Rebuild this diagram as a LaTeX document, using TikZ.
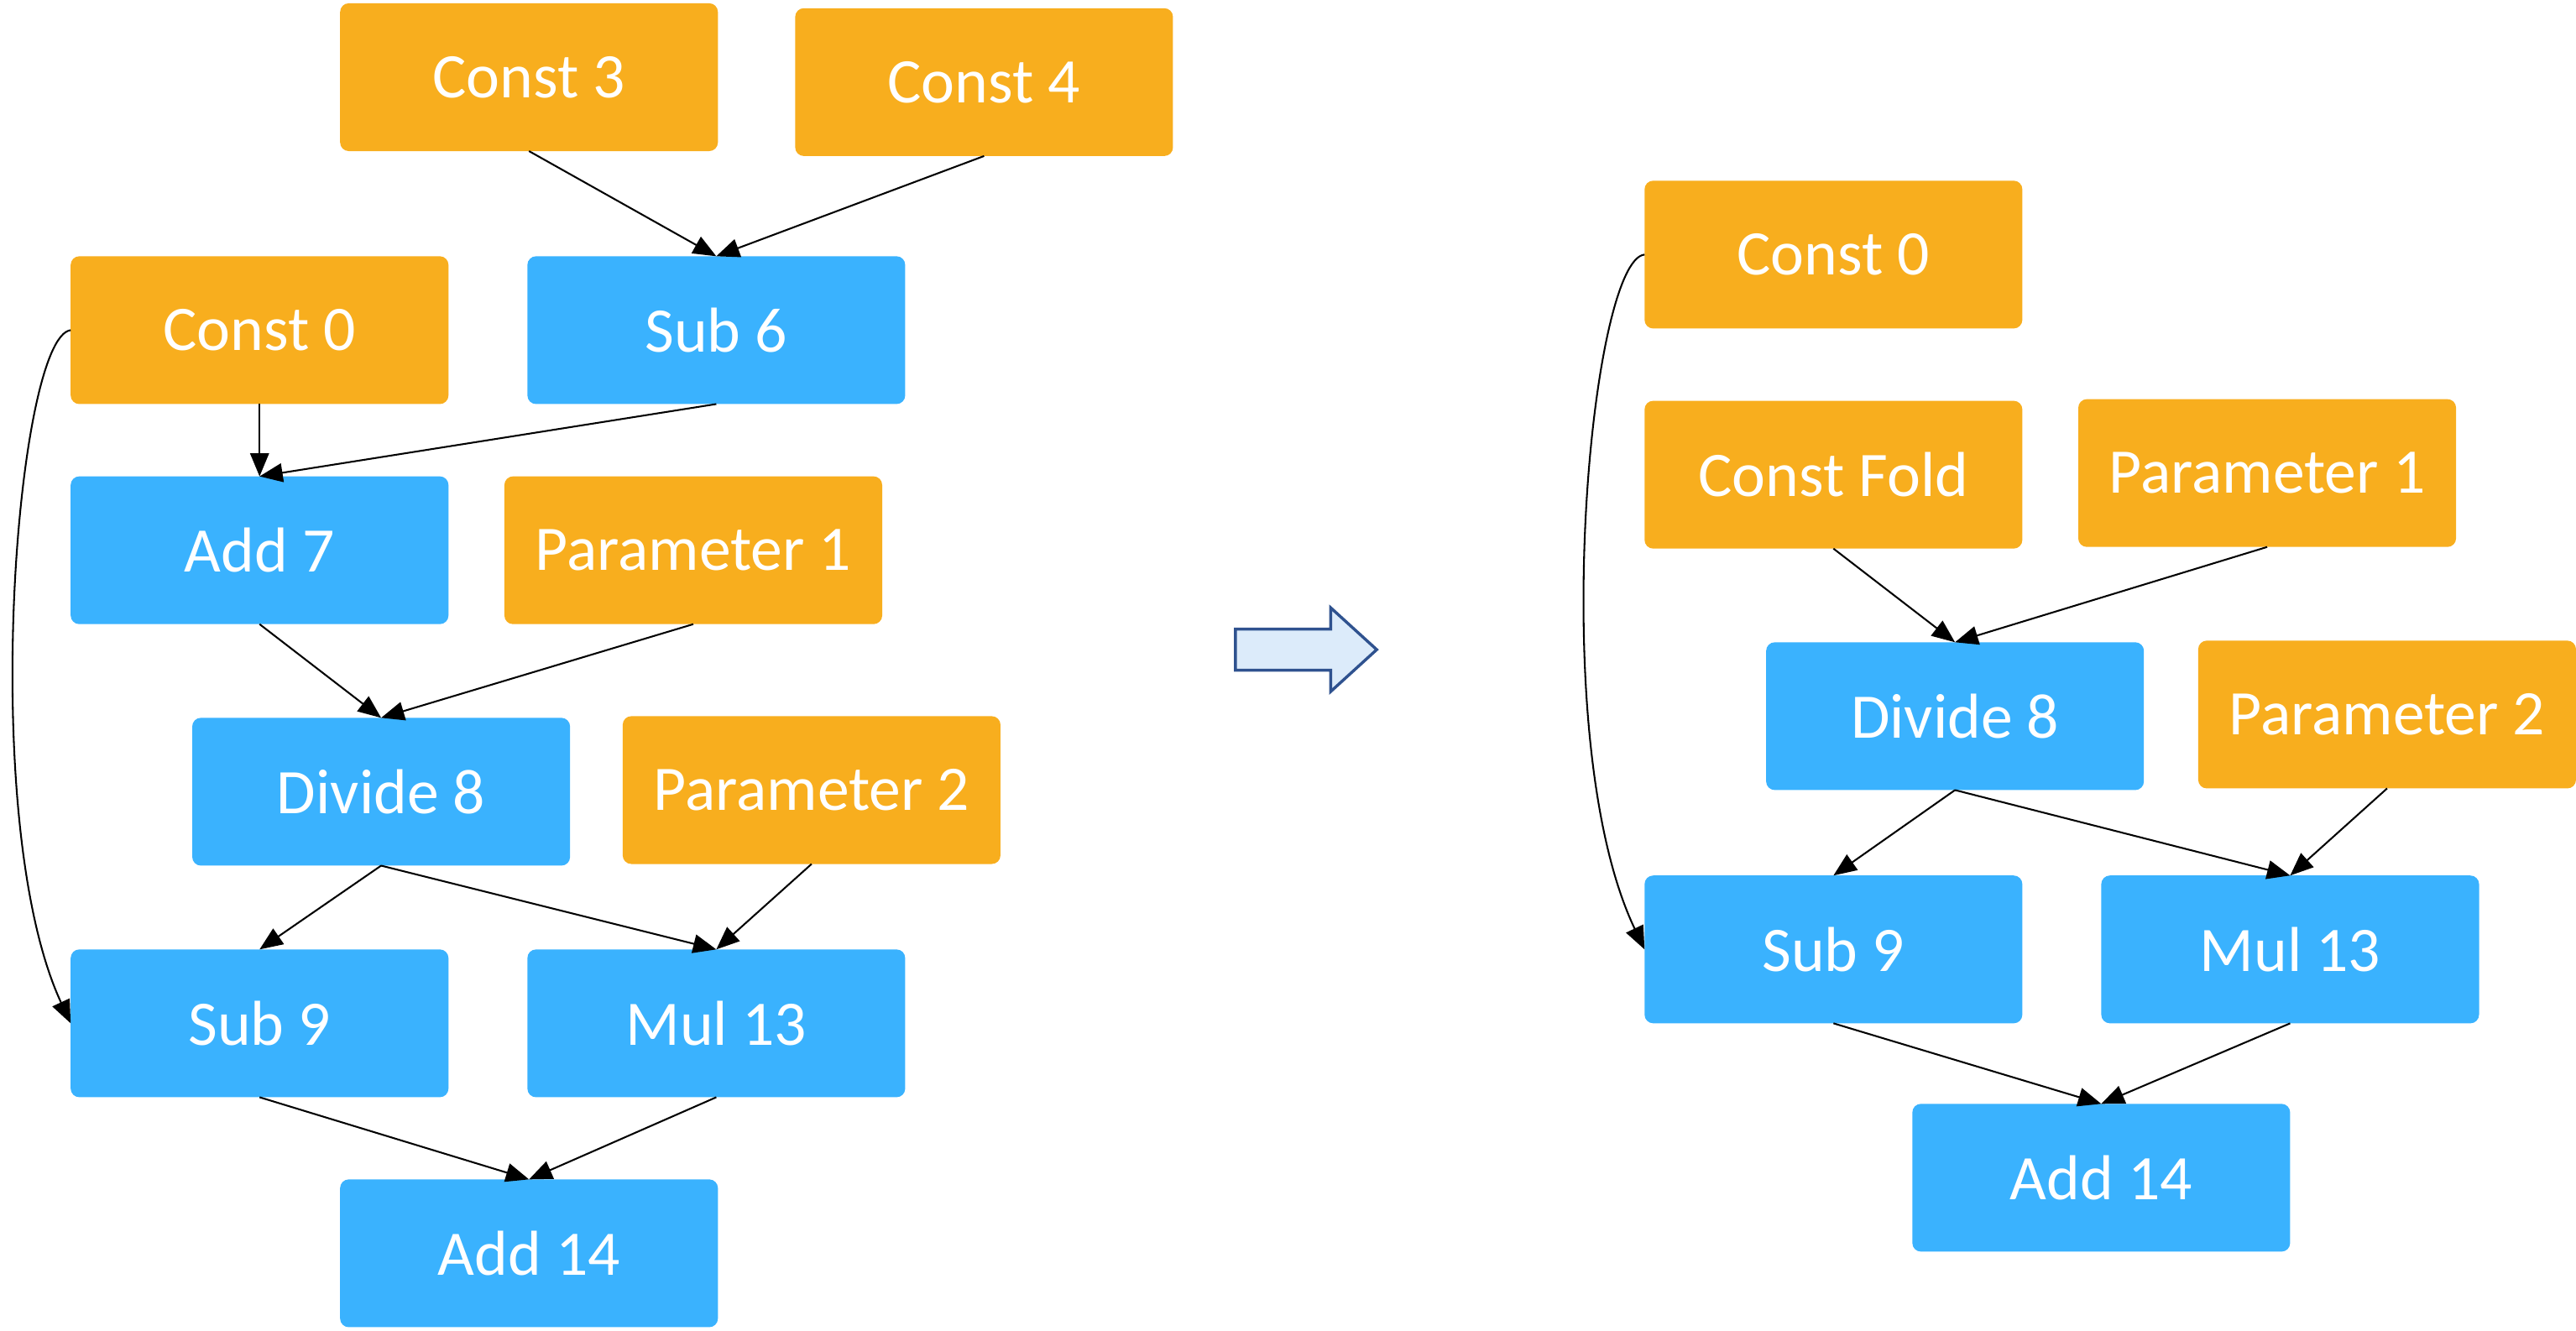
\documentclass[tikz,border=0pt]{standalone}
\usepackage{fontspec}
\setsansfont{Carlito}
\usepackage{xcolor}
\usepackage{tikz}
\usetikzlibrary{positioning,arrows.meta}
\definecolor{cstorange}{HTML}{F8AE1E}
\definecolor{opblue}{HTML}{3AB2FE}
\definecolor{flowfill}{HTML}{DCEBFA}
\definecolor{flowline}{HTML}{2F528F}
\begin{document}
\begin{tikzpicture}[x=0.02cm, y=-0.02cm, font=\sffamily\fontsize{22}{26}\selectfont,
	box/.style={rounded corners=3pt, text=white, minimum width=4.6cm, minimum height=1.8cm, inner sep=0pt, outer sep=0pt},
	cst/.style={box, fill=cstorange},
	op/.style={box, fill=opblue},
	edge/.style={line width=0.6pt, -{Triangle[length=8pt, width=6.5pt]}}]
		\useasboundingbox (0,0) rectangle (1568,810);
		\node[cst] (const3) at (322,47) {Const 3};
		\node[cst] (const4) at (599,50) {Const 4};
		\node[cst] (const0) at (158,201) {Const 0};
		\node[op] (sub6) at (436,201) {Sub 6};
		\node[op] (add7) at (158,335) {Add 7};
		\node[cst] (param1) at (422,335) {Parameter 1};
		\node[op] (div8) at (232,482) {Divide 8};
		\node[cst] (param2) at (494,481) {Parameter 2};
		\node[op] (sub9) at (158,623) {Sub 9};
		\node[op] (mul13) at (436,623) {Mul 13};
		\node[op] (add14) at (322,763) {Add 14};
		\draw[edge] (const3.south) -- (sub6.north);
		\draw[edge] (const4.south) -- (sub6.north);
		\draw[edge] (const0.south) -- (add7.north);
		\draw[edge] (sub6.south) -- (add7.north);
		\draw[edge] (add7.south) -- (div8.north);
		\draw[edge] (param1.south) -- (div8.north);
		\draw[edge] (div8.south) -- (sub9.north);
		\draw[edge] (div8.south) -- (mul13.north);
		\draw[edge] (param2.south) -- (mul13.north);
		\draw[edge] (sub9.south) -- (add14.north);
		\draw[edge] (mul13.south) -- (add14.north);
		\draw[edge] (const0.west) .. controls (10,205) and (-14,500) .. (sub9.west);
		\draw[line width=1pt, draw=flowline, fill=flowfill] (752,383) -- (810,383) -- (810,370) -- (838,395.5) -- (810,421) -- (810,408) -- (752,408) -- cycle;
		\node[cst] (rconst0) at (1116,155) {Const 0};
		\node[cst] (rfold) at (1116,289) {Const Fold};
		\node[cst] (rparam1) at (1380,288) {Parameter 1};
		\node[op] (rdiv8) at (1190,436) {Divide 8};
		\node[cst] (rparam2) at (1453,435) {Parameter 2};
		\node[op] (rsub9) at (1116,578) {Sub 9};
		\node[op] (rmul13) at (1394,578) {Mul 13};
		\node[op] (radd14) at (1279,717) {Add 14};
		\draw[edge] (rfold.south) -- (rdiv8.north);
		\draw[edge] (rparam1.south) -- (rdiv8.north);
		\draw[edge] (rdiv8.south) -- (rsub9.north);
		\draw[edge] (rdiv8.south) -- (rmul13.north);
		\draw[edge] (rparam2.south) -- (rmul13.north);
		\draw[edge] (rsub9.south) -- (radd14.north);
		\draw[edge] (rmul13.south) -- (radd14.north);
		\draw[edge] (rconst0.west) .. controls (968,158) and (940,450) .. (rsub9.west);
	\end{tikzpicture}
\end{document}
